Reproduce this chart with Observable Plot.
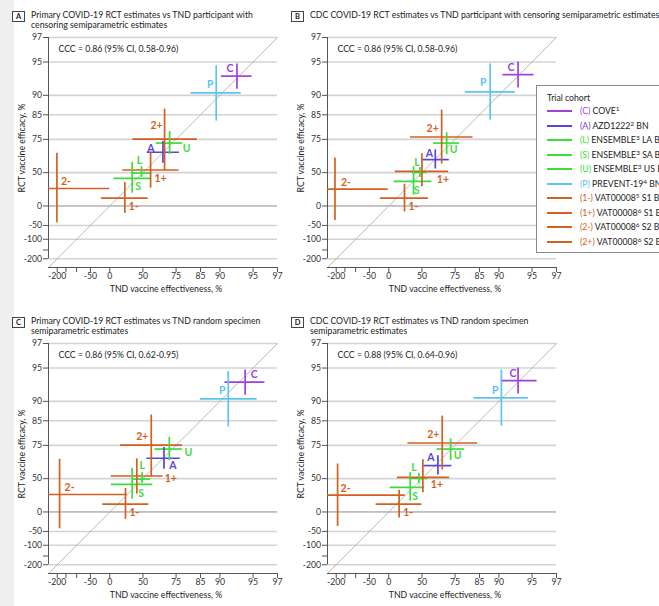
<!DOCTYPE html>
<html><head><meta charset="utf-8">
<script src="https://cdn.jsdelivr.net/npm/d3@7"></script>
<script src="https://cdn.jsdelivr.net/npm/@observablehq/plot@0.6"></script>
<style>
html,body{margin:0;padding:0;background:#fff}
#root{position:relative;width:659px;height:606px;overflow:hidden;font-family:Lato,"Noto Sans",sans-serif;color:#222}
#strip{position:absolute;left:0;top:0;width:14px;height:606px;background:#efefef}
.panel{position:absolute;width:279px;height:306px}
.tag{position:absolute;left:12px;top:11px;width:11px;height:9px;border:1px solid #444;font:bold 7.5px Lato,sans-serif;text-align:center;line-height:9px;color:#222;background:#fff}
.title{position:absolute;left:31px;top:10px;font-size:8.7px;line-height:10px;white-space:nowrap}
.plot{position:absolute;left:0;top:30px}
.ylab{position:absolute;left:21px;top:148px;transform:translate(-50%,-50%) rotate(-90deg);font-size:8.7px;white-space:nowrap}
.xlab{position:absolute;left:166px;top:288px;transform:translate(-50%,-50%);font-size:8.7px;white-space:nowrap}
#legend{position:absolute;left:536px;top:85px;width:160px;height:166px;border:1px solid #8a8a8a;background:#fff;font-size:8.7px}
#legend .lt{position:absolute;left:10px;top:6px;white-space:nowrap}
#legend .sw{position:absolute;left:10px;width:25px;height:2px}
#legend .lb{position:absolute;left:43px;white-space:nowrap;line-height:12px}
#legend sup{font-size:6.5px;line-height:0;vertical-align:3.5px}
</style>
</head><body><div id="root"><div id="strip"></div></div>
<script>
// ---------- data ----------
const cohortCodes = ["C","A","L","S","U","P","1-","1+","2-","2+"];
const cohortNames = ["COVE","AZD1222","ENSEMBLE","ENSEMBLE","ENSEMBLE","PREVENT-19","VAT00008","VAT00008","VAT00008","VAT00008"];
const cohortRefs = ["1","2","3","3","3","4","5","6","6","6"];
const cohortSuffix = ["","BN","LA BN","SA BN","US BN","BN","S1 BN","S1 BN","S2 BN","S2 BN"];

// RCT estimates (y)
const rctPrimary   = [93.3, 67.3, 49.6, 43.6, 73.0, 90.5, 14.9, 52.7, 30.5, 75.1];
const rctPrimaryLo = [91.2, 58.9, 44.8, 23.3, 65.7, 82.9, -16.6, 31.0, -41.9, 52.0];
const rctPrimaryHi = [94.8, 73.9, 55.9, 59.7, 78.8, 94.6, 38.7, 66.9, 66.6, 86.7];
const rctCDC   = [93.5, 61.9, 50.3, 40.0, 73.0, 90.7, 14.9, 51.3, 29.5, 76.2];
const rctCDCLo = [91.4, 53.7, 44.8, 20.1, 65.7, 83.2, -13.4, 32.9, -35.1, 58.3];
const rctCDCHi = [95.0, 68.9, 55.2, 55.9, 78.2, 94.8, 36.5, 66.2, 63.2, 86.4];

// TND estimates (x)
const tndA   = [93.0, 67.1, 48.5, 37.4, 71.4, 89.2, 27.0, 57.4, -202, 68.2];
const tndALo = [90.3, 54.3, 36.5, 8.1, 62.2, 81.7, -19.1, 23.9, -280, 38.3];
const tndAHi = [94.9, 76.7, 58.3, 57.4, 78.2, 93.6, 55.2, 76.5, 0, 84.0];
const tndB   = [93.3, 62.2, 47.8, 40.4, 70.2, 88.0, 28.0, 50.0, -208, 66.9];
const tndBLo = [90.8, 50.3, 39.1, 10.6, 60.8, 79.8, -19.1, 12.5, -280, 36.5];
const tndBHi = [95.2, 71.8, 55.2, 59.4, 77.3, 92.9, 56.5, 71.4, -1, 82.8];
const tndC   = [94.1, 67.8, 49.2, 37.4, 71.2, 91.6, 28.0, 43.2, -185.5, 58.0];
const tndCLo = [91.0, 54.0, 38.3, 3.4, 61.1, 85.0, -15.8, 2.8, -280, 20.1];
const tndCHi = [96.1, 77.1, 57.4, 59.4, 78.1, 95.4, 55.9, 67.1, 30.5, 78.1];
const tndD   = [93.3, 64.2, 46.7, 36.1, 72.6, 90.5, 19.5, 51.0, -191.5, 67.3];
const tndDLo = [90.5, 52.0, 35.2, 2.8, 63.5, 83.1, -30.4, 16.6, -280, 32.9];
const tndDHi = [95.5, 73.3, 55.9, 52.7, 79.5, 94.6, 50.0, 72.0, 29.0, 84.4];

const panelKeys = ["A","B","C","D"];
const panelTitles = [
  ["Primary COVID-19 RCT estimates vs TND participant with","censoring semiparametric estimates"],
  ["CDC COVID-19 RCT estimates vs TND participant with censoring semiparametric estimates"],
  ["Primary COVID-19 RCT estimates vs TND random specimen","semiparametric estimates"],
  ["CDC COVID-19 RCT estimates vs TND random specimen","semiparametric estimates"]
];
const panelCCC = ["CCC = 0.86 (95% CI, 0.58-0.96)","CCC = 0.86 (95% CI, 0.58-0.96)","CCC = 0.86 (95% CI, 0.62-0.95)","CCC = 0.88 (95% CI, 0.64-0.96)"];

const axisTicks = [-200,-150,-100,-50,0,50,75,85,90,95,97];
const yTickLabels = [-200,-100,-50,0,50,75,85,90,95,97];
const xTickLabels = [-200,-50,0,50,75,85,90,95,97];
const gridValues = [-200,-100,-50,50,75,85,90,95,97];
const zeroValues = [0];
const xLabel = "TND vaccine effectiveness, %";
const yLabel = "RCT vaccine efficacy, %";
const legendTitle = "Trial cohort";

// ---------- styles ----------
const FONT = 'Lato,"Noto Sans",sans-serif';
const cohortColors = ["#a23fdc","#5b45d6","#3ddc3d","#3ddc3d","#3ddc3d","#5cc4f0","#d2601e","#d2601e","#d2601e","#d2601e"];
const panelPos = [[0,0],[279,0],[0,306],[279,306]];
const labelOffsets = [
  [[-7,-7],[-12,-4],[-2,-12],[6,8],[17,6],[-6,-8],[9,8],[10,9],[9,-7],[-8,-14]],
  [[-7,-7],[-6,-6],[-3,-10],[3,9],[7,7],[-7,-9],[9,8],[21,8],[11,-7],[-9,-8]],
  [[9,-7],[9,7],[0,-13],[9,9],[19,4],[-6,-8],[9,8],[34,3],[10,-7],[-9,-9]],
  [[-5,-7],[-7,-8],[-5,-11],[5,9],[7,7],[-6,-7],[9,8],[14,7],[8,-7],[-9,-8]]
];
// position = log of relative risk (1 - VE/100)
const pos = v => Math.log(1 - v / 100);
const domainLn = [Math.log(3.6), Math.log(0.03)];
const fmt = list => d => { const v = Math.round((1 - Math.exp(d)) * 100); return list.includes(v) ? String(v) : ""; };

const panelData = [
  [tndA,tndALo,tndAHi,rctPrimary,rctPrimaryLo,rctPrimaryHi],
  [tndB,tndBLo,tndBHi,rctCDC,rctCDCLo,rctCDCHi],
  [tndC,tndCLo,tndCHi,rctPrimary,rctPrimaryLo,rctPrimaryHi],
  [tndD,tndDLo,tndDHi,rctCDC,rctCDCLo,rctCDCHi]
];

const root = document.getElementById("root");

panelKeys.forEach((key, pi) => {
  const [tx, txl, txh, ry, ryl, ryh] = panelData[pi];
  const rows = cohortCodes.map((code, i) => ({code, color: cohortColors[i], x: tx[i], xlo: txl[i], xhi: txh[i], y: ry[i], ylo: ryl[i], yhi: ryh[i]}));
  const panel = document.createElement("div");
  panel.className = "panel";
  panel.style.left = panelPos[pi][0] + "px";
  panel.style.top = panelPos[pi][1] + "px";
  panel.innerHTML = `<div class="tag">${key}</div><div class="title">${panelTitles[pi].join("<br>")}</div>`;

  const plot = Plot.plot({
    width: 279, height: 272,
    marginLeft: 48, marginRight: 2, marginTop: 7, marginBottom: 35,
    style: {fontFamily: FONT, fontSize: "8.7px", color: "#333", background: "transparent", overflow: "visible"},
    x: {type: "linear", domain: domainLn},
    y: {type: "linear", domain: domainLn},
    color: {type: "identity"},
    marks: [
      Plot.ruleY(gridValues, {y: pos, stroke: "#d3d3d3", strokeWidth: 1.6}),
      Plot.ruleY(zeroValues, {y: pos, stroke: "#8a8a8a", strokeWidth: 1}),
      Plot.line(domainLn, {x: d => d, y: d => d, stroke: "#a8a8a8", strokeWidth: 0.8}),
      Plot.ruleX([domainLn[0]], {x: d => d, y1: pos(axisTicks[0]), y2: pos(axisTicks[axisTicks.length-1]), stroke: "#555"}),
      Plot.ruleY([domainLn[0]], {y: d => d, stroke: "#555"}),
      Plot.axisY(axisTicks.map(pos), {tickSize: 5, tickPadding: 1.5, tickFormat: fmt(yTickLabels), label: null, stroke: "#555"}),
      Plot.axisX(axisTicks.map(pos), {tickSize: 5, tickPadding: 0.5, tickFormat: fmt(xTickLabels), label: null, stroke: "#555"}),
      Plot.text([panelCCC[pi]], {text: d => d, frameAnchor: "top-left", textAnchor: "start", lineAnchor: "middle", dx: 10, dy: 12, fill: "#222"}),
      Plot.ruleY(rows, {y: d => pos(d.y), x1: d => pos(d.xlo), x2: d => pos(d.xhi), stroke: "color", strokeWidth: 1.7, clip: true}),
      Plot.ruleX(rows, {x: d => pos(d.x), y1: d => pos(d.ylo), y2: d => pos(d.yhi), stroke: "color", strokeWidth: 1.7, clip: true}),
      ...rows.map((r, i) => Plot.text([r], {x: d => pos(d.x), y: d => pos(d.y), text: "code", fill: r.color,
        dx: labelOffsets[pi][i][0], dy: labelOffsets[pi][i][1], fontSize: 10.5, fontWeight: "bold"}))
    ]
  });
  plot.classList.add("plot");
  panel.appendChild(plot);
  const yl = document.createElement("div"); yl.className = "ylab"; yl.textContent = yLabel; panel.appendChild(yl);
  const xl = document.createElement("div"); xl.className = "xlab"; xl.textContent = xLabel; panel.appendChild(xl);
  root.appendChild(panel);
});

// legend
const lg = document.createElement("div");
lg.id = "legend";
let html = `<div class="lt">${legendTitle}</div>`;
cohortCodes.forEach((code, i) => {
  const cy = 25 + 14.5 * i;
  html += `<div class="sw" style="top:${cy - 1}px;background:${cohortColors[i]}"></div>`;
  html += `<div class="lb" style="top:${cy - 6}px"><span style="color:${cohortColors[i]}">(${code})</span> ${cohortNames[i]}<sup>${cohortRefs[i]}</sup> ${cohortSuffix[i]}</div>`;
});
lg.innerHTML = html;
root.appendChild(lg);
</script>
</body></html>
